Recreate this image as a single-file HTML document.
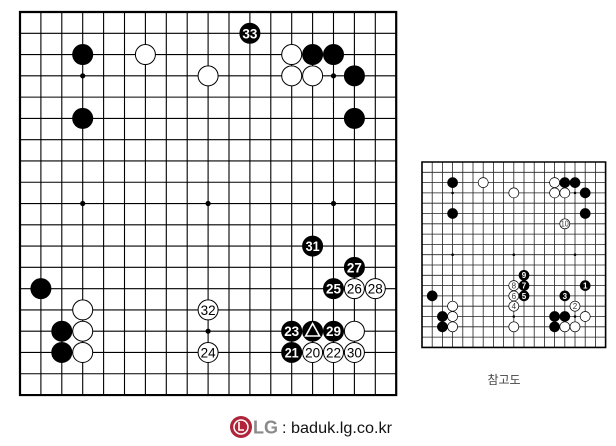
<!DOCTYPE html>
<html><head><meta charset="utf-8"><style>html,body{margin:0;padding:0;background:#fff}svg{display:block}</style></head><body>
<svg width="616" height="446" viewBox="0 0 616 446" xmlns="http://www.w3.org/2000/svg" font-family="'Liberation Sans Narrow','Liberation Sans',sans-serif">
<rect width="616" height="446" fill="#fff"/>
<!-- main board -->
<g transform="translate(20,12) scale(20.9,21.28)" fill="none">
<path fill="none" stroke="#000" stroke-width="1.1" vector-effect="non-scaling-stroke" d="M0 1H18M0 2H18M0 3H18M0 4H18M0 5H18M0 6H18M0 7H18M0 8H18M0 9H18M0 10H18M0 11H18M0 12H18M0 13H18M0 14H18M0 15H18M0 16H18M0 17H18M1 0V18M2 0V18M3 0V18M4 0V18M5 0V18M6 0V18M7 0V18M8 0V18M9 0V18M10 0V18M11 0V18M12 0V18M13 0V18M14 0V18M15 0V18M16 0V18M17 0V18"/>
<rect x="0" y="0" width="18" height="18" fill="none" stroke="#000" stroke-width="2.2" vector-effect="non-scaling-stroke"/>
</g>
<g fill="#000">
<circle cx="82.7" cy="75.84" r="2.6"/><circle cx="208.1" cy="75.84" r="2.6"/><circle cx="333.5" cy="75.84" r="2.6"/>
<circle cx="82.7" cy="203.52" r="2.6"/><circle cx="208.1" cy="203.52" r="2.6"/><circle cx="333.5" cy="203.52" r="2.6"/>
<circle cx="82.7" cy="331.2" r="2.6"/><circle cx="208.1" cy="331.2" r="2.6"/><circle cx="333.5" cy="331.2" r="2.6"/>
</g>
<g stroke="#000" stroke-width="1">
<circle cx="82.7" cy="54.56" r="10" fill="#000"/>
<circle cx="145.4" cy="54.56" r="10" fill="#fff"/>
<circle cx="208.1" cy="75.84" r="10" fill="#fff"/>
<circle cx="249.9" cy="33.28" r="10" fill="#000"/>
<circle cx="291.7" cy="54.56" r="10" fill="#fff"/>
<circle cx="312.6" cy="54.56" r="10" fill="#000"/>
<circle cx="333.5" cy="54.56" r="10" fill="#000"/>
<circle cx="291.7" cy="75.84" r="10" fill="#fff"/>
<circle cx="312.6" cy="75.84" r="10" fill="#fff"/>
<circle cx="354.4" cy="75.84" r="10" fill="#000"/>
<circle cx="82.7" cy="118.4" r="10" fill="#000"/>
<circle cx="354.4" cy="118.4" r="10" fill="#000"/>
<circle cx="40.9" cy="288.64" r="10" fill="#000"/>
<circle cx="82.7" cy="309.92" r="10" fill="#fff"/>
<circle cx="61.8" cy="331.2" r="10" fill="#000"/>
<circle cx="82.7" cy="331.2" r="10" fill="#fff"/>
<circle cx="61.8" cy="352.48" r="10" fill="#000"/>
<circle cx="82.7" cy="352.48" r="10" fill="#fff"/>
<circle cx="208.1" cy="309.92" r="10" fill="#fff"/>
<circle cx="208.1" cy="352.48" r="10" fill="#fff"/>
<circle cx="312.6" cy="246.08" r="10" fill="#000"/>
<circle cx="354.4" cy="267.36" r="10" fill="#000"/>
<circle cx="333.5" cy="288.64" r="10" fill="#000"/>
<circle cx="354.4" cy="288.64" r="10" fill="#fff"/>
<circle cx="375.3" cy="288.64" r="10" fill="#fff"/>
<circle cx="291.7" cy="331.2" r="10" fill="#000"/>
<circle cx="312.6" cy="331.2" r="10" fill="#000"/>
<circle cx="333.5" cy="331.2" r="10" fill="#000"/>
<circle cx="354.4" cy="331.2" r="10" fill="#fff"/>
<circle cx="291.7" cy="352.48" r="10" fill="#000"/>
<circle cx="312.6" cy="352.48" r="10" fill="#fff"/>
<circle cx="333.5" cy="352.48" r="10" fill="#fff"/>
<circle cx="354.4" cy="352.48" r="10" fill="#fff"/>
</g>
<path d="M312.6 323.5 L319.5 336 L305.7 336 Z" fill="none" stroke="#fff" stroke-width="1.6"/>
<g font-size="14" font-weight="bold" text-anchor="middle" fill="#fff">
<text x="249.9" y="38.3" textLength="15" lengthAdjust="spacingAndGlyphs">33</text>
<text x="312.6" y="251.1" textLength="14" lengthAdjust="spacingAndGlyphs">31</text>
<text x="354.4" y="272.4" textLength="15" lengthAdjust="spacingAndGlyphs">27</text>
<text x="333.5" y="293.7" textLength="15" lengthAdjust="spacingAndGlyphs">25</text>
<text x="291.7" y="336.2" textLength="15" lengthAdjust="spacingAndGlyphs">23</text>
<text x="333.5" y="336.2" textLength="15" lengthAdjust="spacingAndGlyphs">29</text>
<text x="291.7" y="357.5" textLength="14" lengthAdjust="spacingAndGlyphs">21</text>
</g>
<g font-size="14" text-anchor="middle" fill="#000">
<text x="208.1" y="314.9" textLength="15" lengthAdjust="spacingAndGlyphs">32</text>
<text x="208.1" y="357.5" textLength="15" lengthAdjust="spacingAndGlyphs">24</text>
<text x="354.4" y="293.7" textLength="15" lengthAdjust="spacingAndGlyphs">26</text>
<text x="375.3" y="293.7" textLength="15" lengthAdjust="spacingAndGlyphs">28</text>
<text x="312.6" y="357.5" textLength="15" lengthAdjust="spacingAndGlyphs">20</text>
<text x="333.5" y="357.5" textLength="15" lengthAdjust="spacingAndGlyphs">22</text>
<text x="354.4" y="357.5" textLength="15" lengthAdjust="spacingAndGlyphs">30</text>
</g>
<!-- small board -->
<g transform="translate(422,162) scale(10.2,10.3)" fill="none">
<path fill="none" stroke="#222" stroke-width="0.8" vector-effect="non-scaling-stroke" d="M0 1H18M0 2H18M0 3H18M0 4H18M0 5H18M0 6H18M0 7H18M0 8H18M0 9H18M0 10H18M0 11H18M0 12H18M0 13H18M0 14H18M0 15H18M0 16H18M0 17H18M1 0V18M2 0V18M3 0V18M4 0V18M5 0V18M6 0V18M7 0V18M8 0V18M9 0V18M10 0V18M11 0V18M12 0V18M13 0V18M14 0V18M15 0V18M16 0V18M17 0V18"/>
<rect x="0" y="0" width="18" height="18" fill="none" stroke="#000" stroke-width="1.6" vector-effect="non-scaling-stroke"/>
</g>
<g fill="#000">
<circle cx="452.6" cy="192.9" r="1.3"/><circle cx="513.8" cy="192.9" r="1.3"/><circle cx="575" cy="192.9" r="1.3"/>
<circle cx="452.6" cy="254.7" r="1.3"/><circle cx="513.8" cy="254.7" r="1.3"/><circle cx="575" cy="254.7" r="1.3"/>
<circle cx="452.6" cy="316.5" r="1.3"/><circle cx="513.8" cy="316.5" r="1.3"/><circle cx="575" cy="316.5" r="1.3"/>
</g>
<g stroke="#000" stroke-width="0.7">
<circle cx="452.6" cy="182.6" r="5" fill="#000"/>
<circle cx="483.2" cy="182.6" r="5" fill="#fff"/>
<circle cx="513.8" cy="192.9" r="5" fill="#fff"/>
<circle cx="554.6" cy="182.6" r="5" fill="#fff"/>
<circle cx="564.8" cy="182.6" r="5" fill="#000"/>
<circle cx="575" cy="182.6" r="5" fill="#000"/>
<circle cx="554.6" cy="192.9" r="5" fill="#fff"/>
<circle cx="564.8" cy="192.9" r="5" fill="#fff"/>
<circle cx="585.2" cy="192.9" r="5" fill="#000"/>
<circle cx="452.6" cy="213.5" r="5" fill="#000"/>
<circle cx="585.2" cy="213.5" r="5" fill="#000"/>
<circle cx="564.8" cy="223.8" r="5" fill="#fff"/>
<circle cx="524" cy="275.3" r="5" fill="#000"/>
<circle cx="524" cy="285.6" r="5" fill="#000"/>
<circle cx="513.8" cy="285.6" r="5" fill="#fff"/>
<circle cx="513.8" cy="295.9" r="5" fill="#fff"/>
<circle cx="524" cy="295.9" r="5" fill="#000"/>
<circle cx="513.8" cy="306.2" r="5" fill="#fff"/>
<circle cx="585.2" cy="285.6" r="5" fill="#000"/>
<circle cx="564.8" cy="295.9" r="5" fill="#000"/>
<circle cx="575" cy="306.2" r="5" fill="#fff"/>
<circle cx="432.2" cy="295.9" r="5" fill="#000"/>
<circle cx="452.6" cy="306.2" r="5" fill="#fff"/>
<circle cx="442.4" cy="316.5" r="5" fill="#000"/>
<circle cx="442.4" cy="326.8" r="5" fill="#000"/>
<circle cx="452.6" cy="316.5" r="5" fill="#fff"/>
<circle cx="452.6" cy="326.8" r="5" fill="#fff"/>
<circle cx="554.6" cy="316.5" r="5" fill="#000"/>
<circle cx="564.8" cy="316.5" r="5" fill="#000"/>
<circle cx="585.2" cy="316.5" r="5" fill="#fff"/>
<circle cx="554.6" cy="326.8" r="5" fill="#000"/>
<circle cx="564.8" cy="326.8" r="5" fill="#fff"/>
<circle cx="575" cy="326.8" r="5" fill="#fff"/>
<circle cx="513.8" cy="326.8" r="5" fill="#fff"/>
</g>
<g font-size="8" text-anchor="middle">
<g fill="#fff" font-weight="bold">
<text x="524" y="278.2">9</text><text x="524" y="288.5">7</text><text x="524" y="298.8">5</text>
<text x="585.2" y="288.5">1</text><text x="564.8" y="298.8">3</text>
</g>
<g fill="#333">
<text x="513.8" y="288.5">8</text><text x="513.8" y="298.8">6</text><text x="513.8" y="309.1">4</text>
<text x="575" y="309.1">2</text><text x="564.8" y="226.7" textLength="8" lengthAdjust="spacingAndGlyphs">10</text>
</g>
</g>
<text x="504" y="384" font-size="12" text-anchor="middle" fill="#444" font-family="'Liberation Sans','Noto Sans CJK KR',sans-serif">참고도</text>
<!-- logo -->
<circle cx="241" cy="427" r="11" fill="#b0243a"/>
<circle cx="241" cy="427" r="7" fill="none" stroke="#fff" stroke-width="1.5"/>
<path d="M239 422V430H244" fill="none" stroke="#fff" stroke-width="1.6"/>
<text x="253" y="433.5" font-size="18" font-weight="bold" fill="#8a8a8a" font-family="'Liberation Sans',sans-serif">LG</text>
<text x="282" y="433" font-size="16" fill="#111" font-family="'Liberation Sans',sans-serif" textLength="110" lengthAdjust="spacingAndGlyphs">: baduk.lg.co.kr</text>
</svg>
</body></html>
